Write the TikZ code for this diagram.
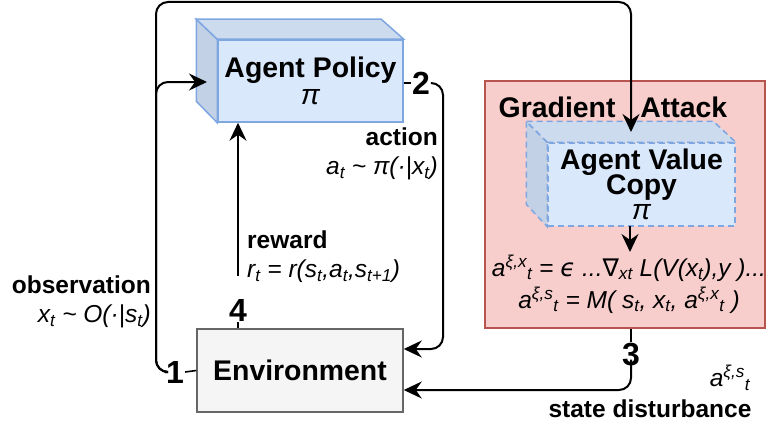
\documentclass[tikz,border=0pt]{standalone}
\usepackage{fontspec}
\setmainfont{Liberation Sans}
\newfontfamily\dejavu{DejaVu Sans}
\usetikzlibrary{arrows.meta}

\definecolor{boxblue}{HTML}{DAE8FC}
\definecolor{lineblue}{HTML}{7EA6E0}
\definecolor{topblue}{HTML}{CDDBEF}
\definecolor{sideblue}{HTML}{C3D1E6}
\definecolor{attackred}{HTML}{F8CECC}
\definecolor{attackline}{HTML}{B85450}
\definecolor{envgray}{HTML}{F5F5F5}
\definecolor{envline}{HTML}{666666}

\tikzset{
  flow/.style={line width=2pt, rounded corners=12pt, -{Stealth[length=18pt,width=17pt,inset=6pt]}},
  stub/.style={line width=1.6pt},
  title/.style={font=\fontsize{28.4}{29}\selectfont\bfseries, align=center, inner sep=0pt},
  lbl/.style={font=\fontsize{24.5}{29}\selectfont, inner sep=0pt},
  num/.style={font=\fontsize{32}{32}\selectfont\bfseries, inner sep=1pt},
  front/.style={draw=lineblue, fill=boxblue, line width=1.5pt, inner sep=0pt},
}

\begin{document}
\begin{tikzpicture}[x=1pt,y=-1pt]
  \useasboundingbox (0,0) rectangle (768,428);

  % attack box
  \node[draw=attackline, fill=attackred, line width=1.5pt, minimum width=280, minimum height=247] (atk) at (625,204.5) {};
  \node[title] (atktitle) at (613,107) {Gradient\hspace{25pt}Attack};

  % agent policy cube
  \node[front, minimum width=185, minimum height=82] (pol) at (310.5,81) {};
  \filldraw[fill=sideblue, draw=lineblue, line width=1.5pt] (pol.north west) -- ++(-21,-20) -- ++(0,82) -- (pol.south west) -- cycle;
  \filldraw[fill=topblue, draw=lineblue, line width=1.5pt] (pol.north west) -- ++(-21,-20) -- ++(185,0) -- (pol.north east) -- cycle;
  \node[title] at (pol.center) {Agent Policy\\[-2pt]\mdseries\itshape π};

  % agent value copy cube
  \node[front, dashed, dash pattern=on 6pt off 4pt, minimum width=187, minimum height=83] (avc) at (641.5,184.5) {};
  \filldraw[fill=sideblue, draw=lineblue, line width=1.5pt, dash pattern=on 6pt off 4pt] (avc.north west) -- ++(-21,-21) -- ++(0,83) -- (avc.south west) -- cycle;
  \filldraw[fill=topblue, draw=lineblue, line width=1.5pt, dash pattern=on 6pt off 4pt] (avc.north west) -- ++(-21,-21) -- ++(187,0) -- (avc.north east) -- cycle;
  \node[title] at (avc.center) {Agent Value\\[-4pt]Copy\\[-4pt]\mdseries\itshape π};

  % environment
  \node[draw=envline, fill=envgray, line width=1.5pt, minimum width=206, minimum height=83, title] (env) at (300,370.5) {Environment};

  % step numbers
  \node[num] (n1) at (175,372) {1};
  \node[num] (n2) at (421,83) {2};
  \node[num] (n3) at (631,355) {3};
  \node[num] (n4) at (238,310) {4};

  % labels
  \node[lbl, anchor=east, align=right] (obs) at (151,302) {\textbf{observation}\\\textit{x\textsubscript{t} \char`~{} O(·|s\textsubscript{t})}};
  \node[lbl, anchor=east, align=right] (act) at (438,154) {\textbf{action}\\\textit{a\textsubscript{t} \char`~{} π(·|x\textsubscript{t})}};
  \node[lbl, anchor=west, align=left] (rew) at (247,257) {\textbf{reward}\\\textit{r\textsubscript{t} = r(s\textsubscript{t},a\textsubscript{t},s\textsubscript{t+1})}};
  \node[lbl, align=center] (fml) at (629,284) {\textit{a\textsuperscript{ξ,x}\textsubscript{t} = {\dejavu ϵ} ...{\dejavu ∇}\textsubscript{xt} L(V(x\textsubscript{t}),y )...}\\[3pt]
    \textit{a\textsuperscript{ξ,s}\textsubscript{t} = M( s\textsubscript{t}, x\textsubscript{t}, a\textsuperscript{ξ,x}\textsubscript{t} )}};
  \node[lbl] (dist) at (730,378) {\textit{a\textsuperscript{ξ,s}\textsubscript{t}}};
  \node[lbl, font=\fontsize{24.5}{29}\selectfont\bfseries] (distlbl) at (650,409) {state disturbance};

  % connector end points
  \coordinate (polin) at (207,82);
  \coordinate (avcin) at (631,132);
  \coordinate (avcout) at (630,226);
  \coordinate (fmlin) at (630,252);

  % connectors
  \draw[stub] (env.west) -- (n1.east);
  \draw[stub] (pol.east |- n2.west) -- (n2.west);
  \draw[stub] (atk.south -| n3.north) -- (n3.north);
  \draw[stub] (env.north -| n4.south) -- (n4.south);

  \draw[flow] (n1.west) -- (156,372) -- (156,82) -- (polin);
  \draw[flow] (n1.west) -- (156,372) -- (156,2) -- (631,2) -- (avcin);
  \draw[flow] (n2.east) -- (443,83) -- (443,349) -- ([yshift=21.5pt]env.east);
  \draw[flow] (n3.south) ++(0,-8) -- (631,390) -- ([yshift=-19.5pt]env.east);
  \draw[flow] (n4.north) ++(0,-22) -- (n4.north |- pol.south);
  \draw[flow] (avcout) -- (fmlin);
\end{tikzpicture}
\end{document}
